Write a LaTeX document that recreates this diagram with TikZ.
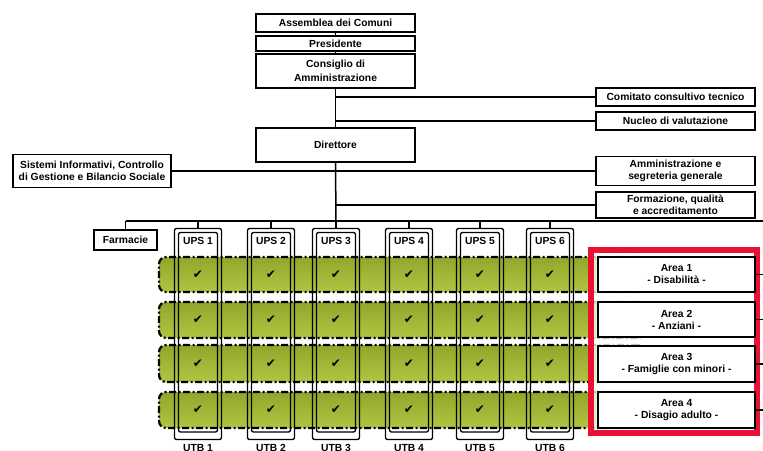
\documentclass[tikz,border=0pt]{standalone}
\usepackage{fontspec}
\setmainfont{Liberation Sans}
\newfontfamily\symfont{DejaVu Sans}
\definecolor{framered}{RGB}{232,18,52}
\definecolor{oliveA}{RGB}{146,166,44}
\definecolor{oliveB}{RGB}{178,196,66}
\begin{document}
\begin{tikzpicture}[x=1pt,y=-1pt,
  box/.style={draw,line width=1.3pt,fill=white,font=\bfseries\fontsize{10.3}{12}\selectfont,align=center,inner sep=0pt},
  conn/.style={line width=1.5pt},
  colbox/.style={draw,line width=1.3pt,rounded corners=2pt,inner sep=0pt},
  band/.style={draw,line width=2.2pt,dash pattern=on 7pt off 2.5pt on 2pt off 2.5pt,rounded corners=7pt,top color=oliveA,bottom color=oliveB,inner sep=0pt},
  chk/.style={font=\symfont\fontsize{12}{12}\selectfont,inner sep=0pt},
  lbl/.style={font=\bfseries\fontsize{10.3}{12}\selectfont,inner sep=0pt}]
\useasboundingbox[fill=white] (0,0) rectangle (763,450);

% top chain
\node[box,minimum width=159pt,minimum height=18pt] (asm) at (335.5,23) {Assemblea dei Comuni};
\node[box,minimum width=159pt,minimum height=15pt] (pres) at (335.5,43.5) {Presidente};
\node[box,minimum width=159pt,minimum height=34pt,font=\bfseries\fontsize{10.3}{13.5}\selectfont] (cda) at (335.5,71) {Consiglio di\\Amministrazione};
\node[box,minimum width=159pt,minimum height=34pt] (dir) at (335.5,145) {Direttore};

% right staff boxes
\node[box,minimum width=159pt,minimum height=18pt] (com) at (675.5,97) {Comitato consultivo tecnico};
\node[box,minimum width=159pt,minimum height=18pt] (nuc) at (675.5,121) {Nucleo di valutazione};
\node[box,minimum width=159pt,minimum height=29pt] (amm) at (675.5,171) {Amministrazione e\\segreteria generale};
\node[box,minimum width=159pt,minimum height=26pt] (form) at (675.5,205) {Formazione, qualità\\e accreditamento};
\node[box,minimum width=158pt,minimum height=33pt] (sis) at (92,171) {Sistemi Informativi, Controllo\\di Gestione e Bilancio Sociale};
\node[box,minimum width=63pt,minimum height=20pt] (farm) at (125.5,240) {Farmacie};

\coordinate (busL) at (125.5,221);
\coordinate (busR) at (763,221);
\coordinate (bus) at (336,221);

% connectors
\draw[conn] (asm.south) -- (pres.north);
\draw[conn] (pres.south) -- (cda.north);
\draw[conn] (cda.south) -- (dir.north);
\draw[conn] (com.west) -- (cda.south |- com.west);
\draw[conn] (nuc.west) -- (cda.south |- nuc.west);
\draw[conn] (sis.east) -- (amm.west);
\draw[conn] (form.west) -- (dir.south |- form.west);
\draw[conn] (dir.south) -- (bus);
\draw[conn] (busL) -- (busR);
\draw[conn] (farm.north) -- (busL);

% bands
\node[band,minimum width=486pt,minimum height=35pt] (b1) at (402,274.5) {};
\node[band,minimum width=486pt,minimum height=36pt] (b2) at (402,320) {};
\node[band,minimum width=486pt,minimum height=37pt] (b3) at (402,363.5) {};
\node[band,minimum width=486pt,minimum height=36pt] (b4) at (402,410) {};

% UPS columns
\foreach \i/\x in {1/198,2/271,3/336,4/409,5/480,6/550} {
  \node[colbox,minimum width=47pt,minimum height=211pt] (ups\i) at (\x,334) {};
  \node[colbox,minimum width=39pt,minimum height=199.5pt] (upsin\i) at (\x,332.25) {};
  \node[lbl] (upst\i) at (\x,241) {UPS \i};
  \node[lbl,anchor=north] (utb\i) at (\x,444.5) {UTB \i};
  \draw[conn] (ups\i.north) -- (ups\i.north |- bus);
  \foreach \r in {1,...,4} {
    \node[chk] (c\i\r) at (ups\i |- b\r) {✔};
  }
}

% red frame with areas
\fill[white,opacity=0.75] (591,250) rectangle (757,433);
\node[draw=framered,line width=6pt,minimum width=166pt,minimum height=183pt,inner sep=0pt] (frame) at (674,341.5) {};
\node[box,minimum width=157pt,minimum height=35pt] (a1) at (676.5,274.5) {Area 1\\- Disabilità -};
\node[box,minimum width=157pt,minimum height=35pt] (a2) at (676.5,319.5) {Area 2\\- Anziani -};
\node[box,minimum width=157pt,minimum height=36pt] (a3) at (676.5,364) {Area 3\\- Famiglie con minori -};
\node[box,minimum width=157pt,minimum height=36pt] (a4) at (676.5,410) {Area 4\\- Disagio adulto -};
\foreach \a in {a1,a2,a3,a4} {
  \draw[conn] (\a.east) -- (\a.east -| busR);
}
\end{tikzpicture}
\end{document}
